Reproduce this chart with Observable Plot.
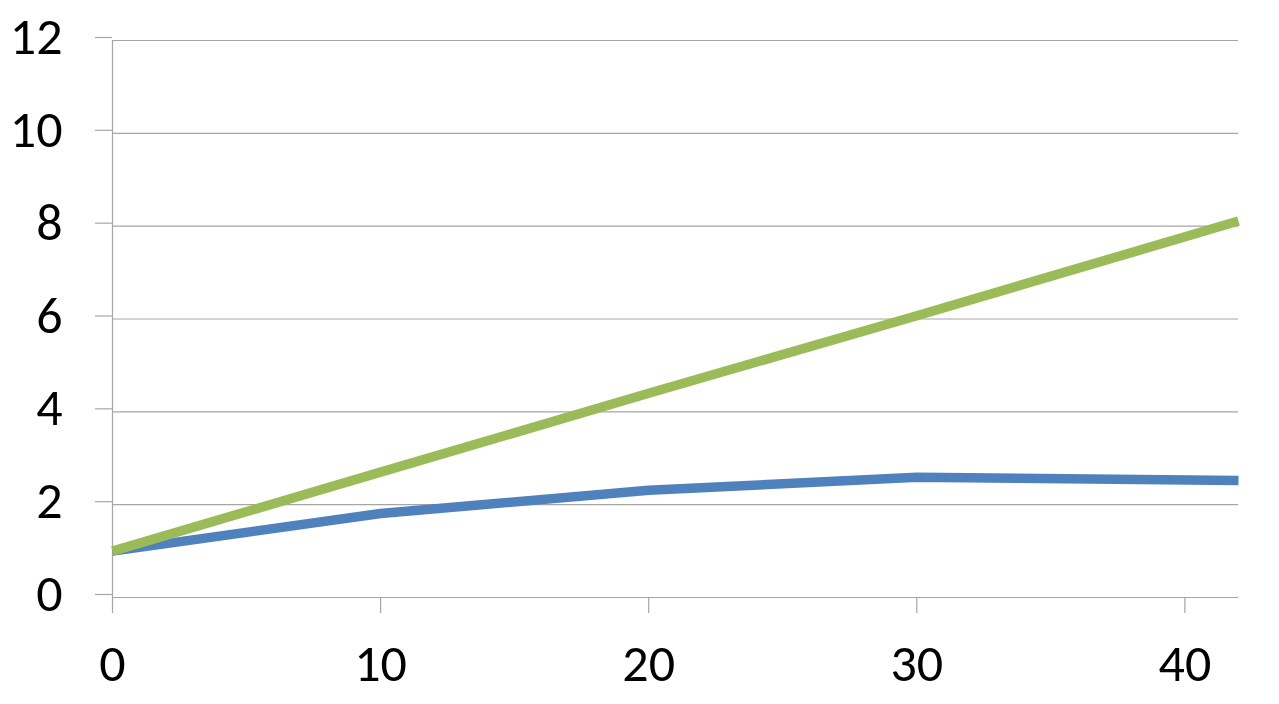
<!DOCTYPE html>
<html>
<head>
<meta charset="utf-8">
<script src="https://cdn.jsdelivr.net/npm/d3@7"></script>
<script src="https://cdn.jsdelivr.net/npm/@observablehq/plot@0.6"></script>
<style>
  html, body { margin: 0; padding: 0; background: #fff; }
  #chart svg { display: block; }
</style>
</head>
<body>
<div id="chart"></div>
<script>
// Data
const xValues = [0, 10, 20, 30, 42];
const blueValues = [1.0, 1.81, 2.31, 2.59, 2.52];
const greenValues = [1.0, 2.7, 4.4, 6.07, 8.11];
const xTicks = [0, 10, 20, 30, 40];
const yTicks = [0, 2, 4, 6, 8, 10, 12];

const blue = xValues.map((x, i) => ({x, y: blueValues[i]}));
const green = xValues.map((x, i) => ({x, y: greenValues[i]}));

const gridColor = "#a6a6a6";

const chart = Plot.plot({
  width: 1279,
  height: 704,
  marginLeft: 112,
  marginRight: 41,
  marginTop: 40,
  marginBottom: 107,
  style: {fontFamily: "Carlito, Calibri, Lato, sans-serif", fontSize: "52px", color: "#000", background: "#fff"},
  x: {domain: [0, 42]},
  y: {domain: [0, 12]},
  marks: [
    Plot.ruleY(yTicks, {stroke: gridColor, strokeWidth: 1.2}),
    Plot.ruleX([0], {y1: 0, y2: 12, stroke: gridColor, strokeWidth: 1.2}),
    Plot.axisY(yTicks, {tickSize: 17, tickPadding: 33, stroke: gridColor, strokeWidth: 1.2, fill: "#000", label: null, fontSize: 52, dy: -3}),
    Plot.axisX(xTicks, {tickSize: 16, tickPadding: 31, stroke: gridColor, strokeWidth: 1.2, fill: "#000", label: null, fontSize: 52}),
    Plot.line(blue, {x: "x", y: "y", stroke: "#4f81bd", strokeWidth: 9.5, strokeLinejoin: "round", strokeLinecap: "butt"}),
    Plot.line(green, {x: "x", y: "y", stroke: "#9bbb59", strokeWidth: 9.5, strokeLinejoin: "round", strokeLinecap: "butt"})
  ]
});
document.getElementById("chart").appendChild(chart);
</script>
</body>
</html>
